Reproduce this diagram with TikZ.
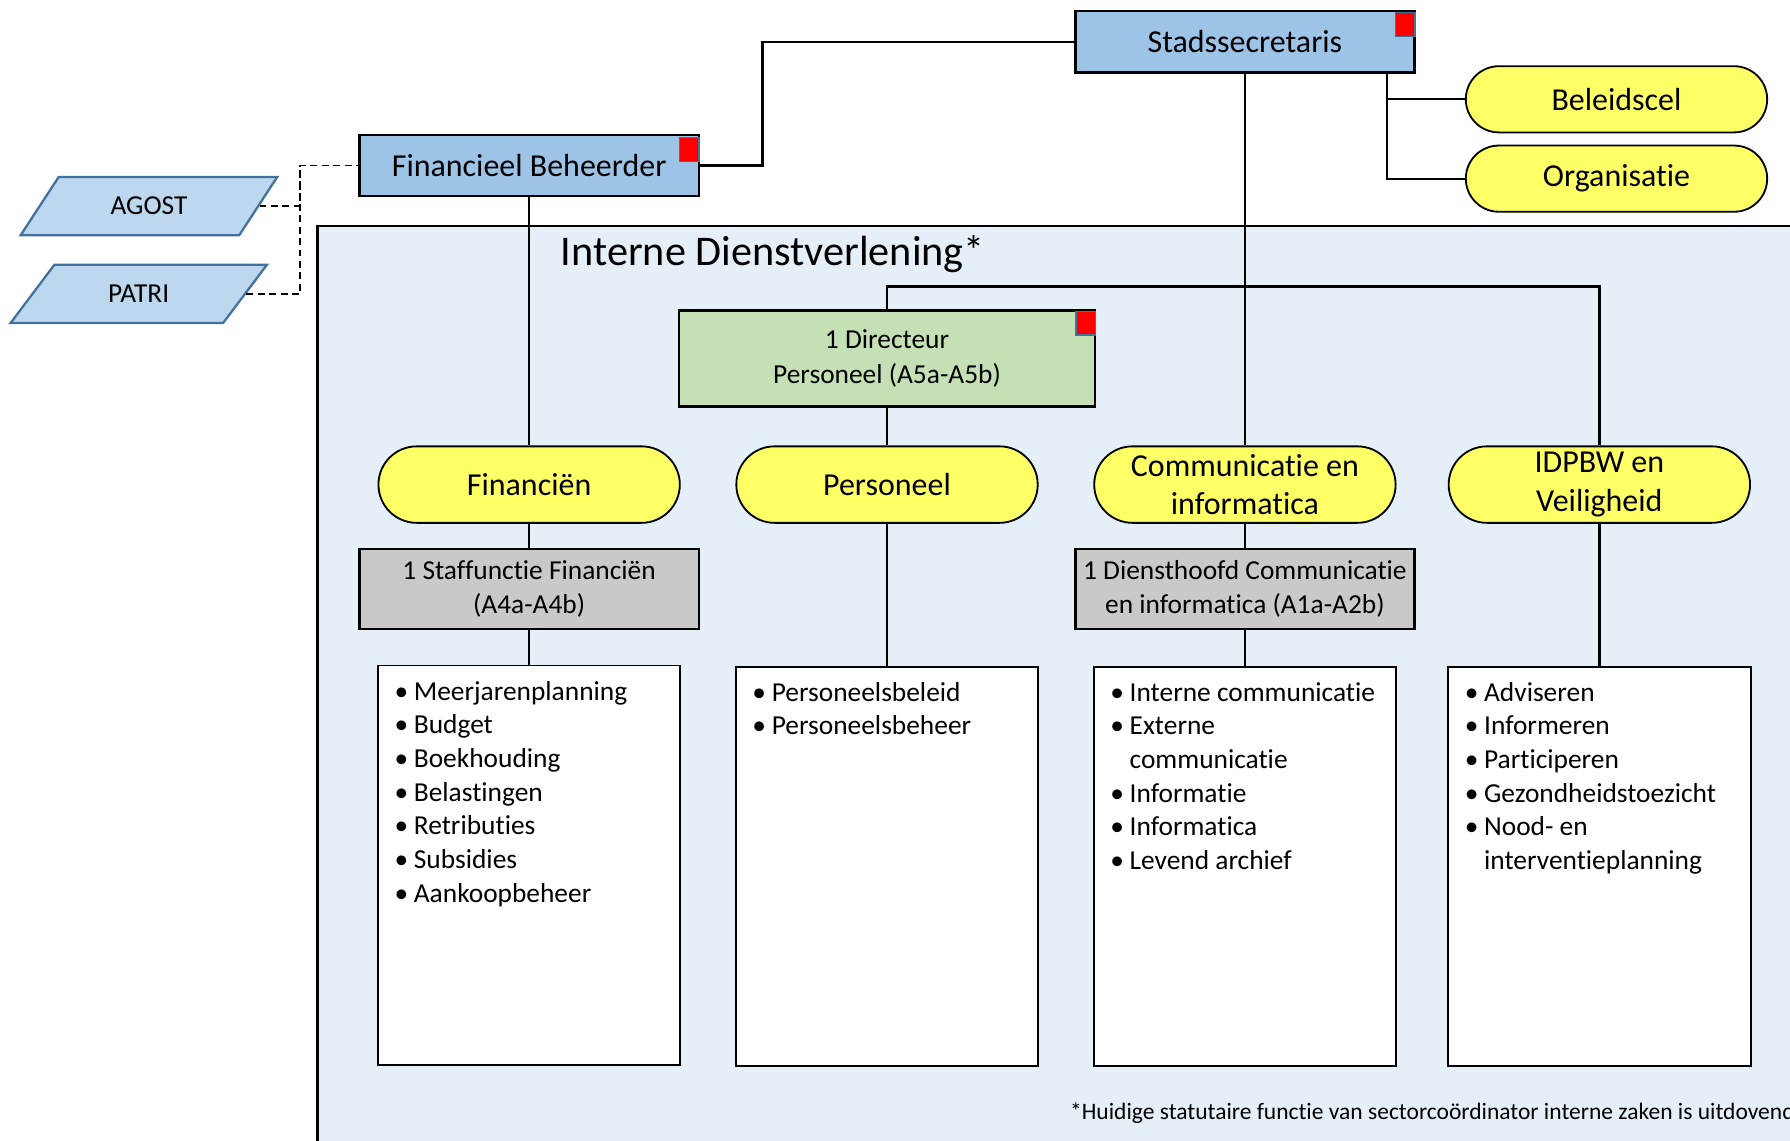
\documentclass[tikz,border=0pt]{standalone}
\usepackage{fontspec}
\setmainfont{Carlito}[Ligatures=NoCommon]
\usepackage{tikz}
\usetikzlibrary{shapes.geometric, shapes.misc}

\definecolor{kaderblauw}{HTML}{9DC3E6}
\definecolor{databankblauw}{HTML}{BDD7EE}
\definecolor{lijnblauw}{HTML}{41719C}
\definecolor{celgeel}{HTML}{FFFF66}
\definecolor{directiegroen}{HTML}{C5E0B4}
\definecolor{stafgrijs}{HTML}{C9C9C9}
\definecolor{achtergrond}{HTML}{E4EFF7}

\newcommand{\punt}[1]{\textbullet\hspace{2.5pt}#1}
\newcommand{\vervolg}[1]{\hphantom{\textbullet}\hspace{2.5pt}#1}

\tikzset{
  leiding/.style={draw=black, line width=1pt, fill=kaderblauw, minimum width=148.5pt, minimum height=27pt, font=\fontsize{14}{17}\selectfont},
  directie/.style={draw=black, line width=1pt, fill=directiegroen, minimum width=182pt, minimum height=42pt, align=center, font=\fontsize{12}{15}\selectfont},
  cel/.style={rounded rectangle, draw=black, line width=0.8pt, fill=celgeel, minimum width=132pt, minimum height=33.5pt, align=center, font=\fontsize{14}{17}\selectfont},
  staf/.style={draw=black, line width=1pt, fill=stafgrijs, minimum width=148.5pt, minimum height=35pt, align=center, font=\fontsize{12}{15}\selectfont},
  taken/.style={draw=black, line width=0.8pt, fill=white, minimum width=132.5pt, minimum height=175pt},
  takentekst/.style={anchor=north west, align=left, font=\fontsize{12}{14.75}\selectfont},
  databank/.style={trapezium, trapezium left angle=48, trapezium right angle=132, trapezium stretches=true, draw=lijnblauw, line width=1pt, fill=databankblauw, minimum width=112.5pt, minimum height=25.5pt, font=\fontsize{12}{14}\selectfont},
  vlag/.style={draw=lijnblauw, line width=0.6pt, fill=red, minimum width=8.5pt, minimum height=10.5pt, anchor=north east},
  verbinding/.style={line width=1pt},
  stippel/.style={line width=0.8pt, dash pattern=on 3pt off 2pt},
}

\begin{document}
\begin{tikzpicture}[x=0.5pt, y=-0.5pt]
        \tikzstyle{every node}+=[inner sep=0pt]
        \clip (0,0) rectangle (1568,999);
        \fill [achtergrond] (278,198) rectangle (1620,1040);
        \draw [verbinding] (278,1040) -- (278,198) -- (1620,198);
        \node [anchor=west, font=\fontsize{18.5}{21}\selectfont] (titel) at (491,223) {Interne Dienstverlening*};

        \node [leiding] (stad) at (1090.5,36.5) {Stadssecretaris};
        \node [leiding] (fb) at (463.5,145) {Financieel Beheerder};
        \node [cel, minimum height=29pt] (beleid) at (1416,87) {Beleidscel};
        \node [cel, minimum height=29pt] (org) at (1416,156.5) {Organisatie};
        \node [databank] (agost) at (130.5,180.5) {AGOST};
        \node [databank] (patri) at (121.5,257.5) {PATRI};

        \node [directie] (dir) at (777,314) {1 Directeur\\Personeel (A5a-A5b)};

        \node [cel] (fin) at (463.5,424.5) {Financiën};
        \node [cel] (pers) at (777,424.5) {Personeel};
        \node [cel] (comm) at (1090.5,424.5) {Communicatie en\\informatica};
        \node [cel] (idpbw) at (1401,424.5) {IDPBW en\\Veiligheid};

        \node [staf] (stafsf) at (463.5,516) {1 Staffunctie Financiën\\(A4a-A4b)};
        \node [staf] (stafdh) at (1090.5,516) {1 Diensthoofd Communicatie\\en informatica (A1a-A2b)};

        \node [taken] (finlijst) at (463.5,758) {};
        \node [taken] (perslijst) at (777,759) {};
        \node [taken] (commlijst) at (1090.5,759) {};
        \node [taken] (idpbwlijst) at (1401,759) {};

        \node [takentekst] (fintekst) at ([xshift=7.5pt,yshift=-7pt]finlijst.north west)
          {\punt{Meerjarenplanning}\\\punt{Budget}\\\punt{Boekhouding}\\\punt{Belastingen}\\\punt{Retributies}\\\punt{Subsidies}\\\punt{Aankoopbeheer}};
        \node [takentekst] (perstekst) at ([xshift=7.5pt,yshift=-7pt]perslijst.north west)
          {\punt{Personeelsbeleid}\\\punt{Personeelsbeheer}};
        \node [takentekst] (commtekst) at ([xshift=7.5pt,yshift=-7pt]commlijst.north west)
          {\punt{Interne communicatie}\\\punt{Externe}\\\vervolg{communicatie}\\\punt{Informatie}\\\punt{Informatica}\\\punt{Levend archief}};
        \node [takentekst] (idpbwtekst) at ([xshift=7.5pt,yshift=-7pt]idpbwlijst.north west)
          {\punt{Adviseren}\\\punt{Informeren}\\\punt{Participeren}\\\punt{Gezondheidstoezicht}\\\punt{Nood- en}\\\vervolg{interventieplanning}};

        \node [anchor=west, font=\fontsize{10.3}{12}\selectfont] (voetnoot) at (937,975)
          {*Huidige statutaire functie van sectorcoördinator interne zaken is uitdovend};

        \node [vlag] (stadvlag) at ([yshift=-1pt]stad.north east) {};
        \node [vlag] (fbvlag) at ([yshift=-1.5pt]fb.north east) {};
        \node [vlag] (dirvlag) at ([yshift=-0.5pt]dir.north east) {};

        \coordinate (tak) at (1090.5,251);
        \coordinate (knik) at (263,145);
        \draw [verbinding] (fb.east) -- ++(27.5pt,0) |- (stad.west);
        \draw [verbinding] ([xshift=-12.5pt]stad.south east) |- (beleid.west);
        \draw [verbinding] ([xshift=-12.5pt]stad.south east) |- (org.west);
        \draw [verbinding] (stad.south) -- (comm.north);
        \draw [verbinding] (dir.north) |- (tak) -| (idpbw.north);
        \draw [verbinding] (dir.south) -- (pers.north);
        \draw [verbinding] (fb.south) -- (fin.north);
        \draw [verbinding] (fin.south) -- (stafsf.north);
        \draw [verbinding] (stafsf.south) -- (finlijst.north);
        \draw [verbinding] (pers.south) -- (perslijst.north);
        \draw [verbinding] (comm.south) -- (stafdh.north);
        \draw [verbinding] (stafdh.south) -- (commlijst.north);
        \draw [verbinding] (idpbw.south) -- (idpbwlijst.north);
        \draw [stippel] (agost.east) -| (knik) -- (fb.west);
        \draw [stippel] (patri.east) -| (knik);
\end{tikzpicture}
\end{document}
